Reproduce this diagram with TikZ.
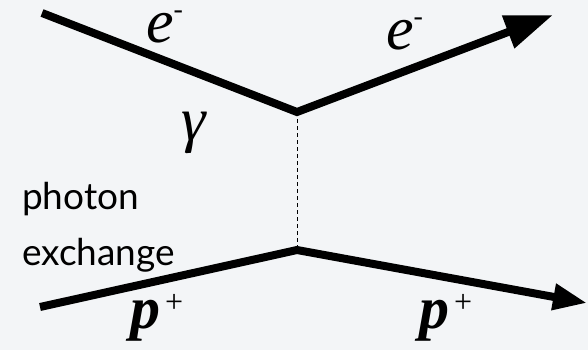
\documentclass[tikz,border=0pt]{standalone}
\usepackage{fontspec}
\setmainfont{Liberation Serif}
\newfontfamily\handfont{Lato}
\usetikzlibrary{arrows.meta,positioning}
\definecolor{bgpaper}{RGB}{243,245,247}
\tikzset{
  fermion/.style={line width=8pt, line cap=butt, line join=miter, black},
  bigtip/.style={fermion, -{Triangle[length=48pt,width=33pt]}},
  smalltip/.style={fermion, -{Triangle[length=34pt,width=25pt]}},
  photonline/.style={line width=0.8pt, dash pattern=on 4pt off 3pt},
  elabel/.style={anchor=base west, inner sep=0pt, text height=32pt, text depth=0pt,
    font=\fontsize{62}{66}\selectfont\itshape},
  plabel/.style={anchor=base west, inner sep=0pt, font=\fontsize{60}{64}\selectfont\bfseries\itshape},
  notelabel/.style={anchor=base west, inner sep=0pt, align=left,
    font=\handfont\fontsize{37}{56}\selectfont}
}
\newcommand{\eminus}{e\raisebox{24pt}{\fontsize{28}{28}\selectfont\upshape -}}
\newcommand{\pplus}{p\hspace{5pt}\raisebox{16pt}{\fontsize{32}{32}\selectfont\mdseries\upshape +}}

\begin{document}
\begin{tikzpicture}[x=1pt, y=-1pt]
  \fill[bgpaper] (0,0) rectangle (588,350);
  \useasboundingbox (0,0) rectangle (588,350);
  % vertices and free ends
  \coordinate (ein) at (42,13);
  \coordinate (vtop) at (297,112);
  \coordinate (eout) at (553,15);
  \coordinate (pin) at (40,307);
  \coordinate (vbot) at (297,250);
  \coordinate (pout) at (587,303);
  % lines
  \draw[bigtip] (ein) -- (vtop) -- (eout);
  \draw[smalltip] (pin) -- (vbot) -- (pout);
  \draw[photonline] (vtop) -- (vbot);
  % labels
  \node[elabel] (elin) at (146,43) {\eminus};
  \node[elabel] (elout) at (386,50) {\eminus};
  \node[elabel] (gam) at (181,140) {γ};
  \node[plabel] (plin) at (130,328) {\pplus};
  \node[plabel] (plout) at (419,328) {\pplus};
  \node[notelabel] (note) at (22,265) {photon\\exchange};
\end{tikzpicture}
\end{document}
